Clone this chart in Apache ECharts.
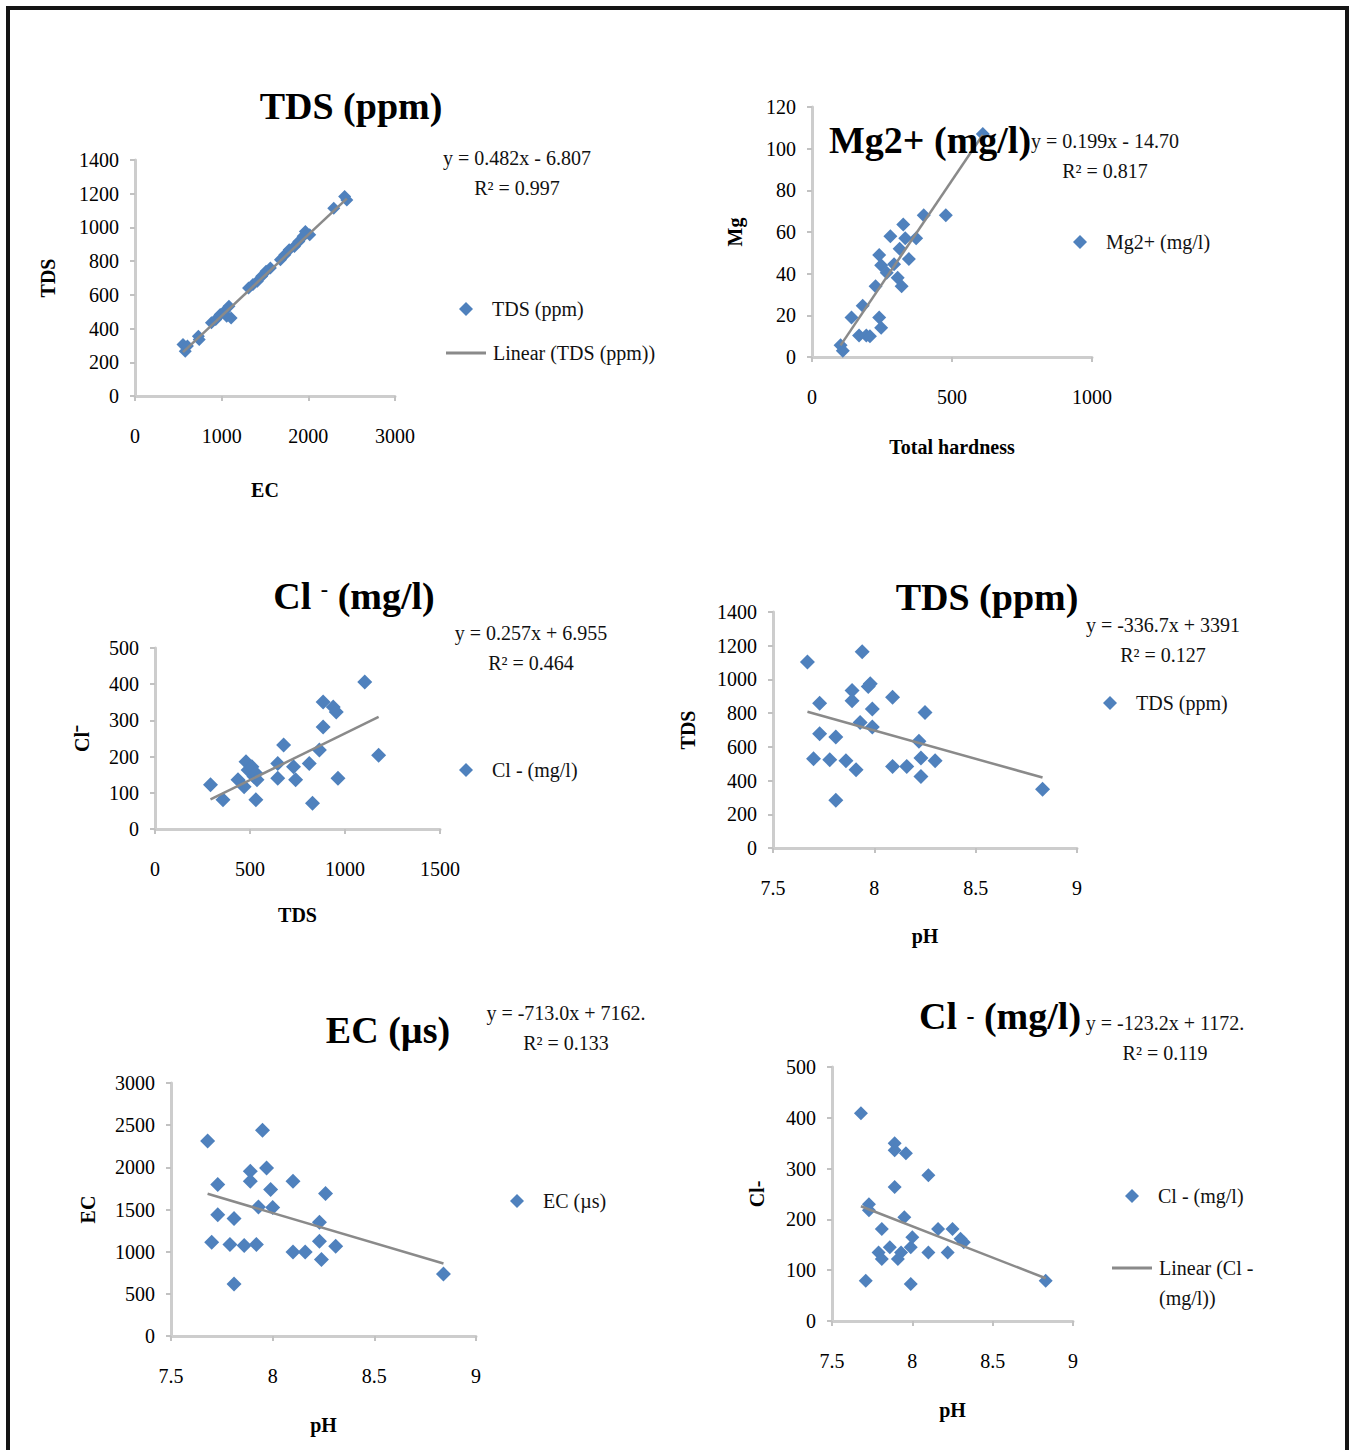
<!DOCTYPE html>
<html><head><meta charset="utf-8">
<script src="https://cdn.jsdelivr.net/npm/echarts@6/dist/echarts.min.js"></script>
<style>html,body{margin:0;padding:0;background:#fff}#c{width:1350px;height:1450px}</style>
</head><body><div id="c"></div>
<script>
// ---------- DATA ----------
// Panel 1: TDS (ppm) vs EC
const p1EC  = [554,580,605,731,741,882,932,983,1033,1084,1058,1109,1310,1361,1411,1462,1512,1562,1678,1729,1779,1840,1890,1940,1966,2016,2293,2444,2419];
const p1TDS = [306,266,296,355,335,434,454,483,503,532,473,463,641,661,680,710,740,759,809,838,868,887,917,947,976,956,1114,1163,1183];
const p1Trend = [0.482, -6.807];
// Panel 2: Mg vs Total hardness
const p2TH = [102,110,141,181,168,194,207,240,247,227,240,247,267,280,293,306,320,313,326,333,346,372,399,478,610];
const p2Mg = [5.6,3,19,24.6,10.3,10.3,10,19,14,34,49,44,40.5,58,44.5,38,34,52,63.6,57,47,57,68,68,107];
const p2Trend = [0.199, -14.70];
// Panel 3: Cl- vs TDS
const p3TDS = [292,358,437,469,479,490,510,521,531,537,531,646,646,677,729,740,812,829,865,885,885,938,954,963,1104,1177];
const p3Cl  = [122,81,136,117,186,163,172,145,154,136,81,181,140,232,172,136,181,71,218,282,351,337,323,140,406,204];
const p3Trend = [0.257, 6.955];
// Panel 4: TDS vs pH
const p4pH  = [7.67,7.70,7.73,7.73,7.78,7.81,7.81,7.86,7.89,7.89,7.91,7.93,7.94,7.97,7.98,7.99,7.99,8.09,8.09,8.16,8.22,8.23,8.23,8.25,8.30,8.83];
const p4TDS = [1104,530,858,678,524,658,284,518,934,874,464,744,1164,958,974,824,718,894,484,484,634,534,424,804,518,348];
const p4Trend = [-336.7, 3391];
// Panel 5: EC vs pH
const p5pH = [7.68,7.70,7.73,7.73,7.79,7.81,7.81,7.86,7.89,7.89,7.92,7.93,7.95,7.97,7.99,8.00,8.10,8.10,8.16,8.23,8.23,8.24,8.26,8.31,8.84];
const p5EC = [2312,1113,1797,1437,1086,1394,617,1074,1953,1836,1086,1531,2441,1992,1738,1523,1836,996,996,1348,1125,906,1691,1063,734];
const p5Trend = [-713.0, 7162];
// Panel 6: Cl- vs pH
const p6pH = [7.68,7.71,7.73,7.73,7.81,7.79,7.81,7.86,7.89,7.89,7.89,7.91,7.93,7.95,7.96,7.99,8.00,7.99,8.10,8.10,8.16,8.22,8.25,8.30,8.32,8.83];
const p6Cl = [409,79,230,218,181,135,122,145,350,336,264,122,135,204,330,145,165,73,287,135,181,135,181,162,155,79];
const p6Trend = [-123.2, 1172];

// Text
const titles = ['TDS (ppm)', 'Mg2+ (mg/l)', '{b|Cl }{s|-}{b| (mg/l)}', 'TDS (ppm)', 'EC (µs)', '{b|Cl }{m|-}{b| (mg/l)}'];
const equations = ['y = 0.482x - 6.807\nR² = 0.997', 'y = 0.199x - 14.70\nR² = 0.817', 'y = 0.257x + 6.955\nR² = 0.464',
                   'y = -336.7x + 3391\nR² = 0.127', 'y = -713.0x + 7162.\nR² = 0.133', 'y = -123.2x + 1172.\nR² = 0.119'];
const seriesNames = ['TDS (ppm)', 'Mg2+ (mg/l)', 'Cl - (mg/l)', 'TDS (ppm)', 'EC (µs)', 'Cl - (mg/l)'];
const trendNames = ['Linear (TDS (ppm))', 'Linear (Mg2+ (mg/l))', 'Linear (Cl - (mg/l) TDS)', 'Linear (TDS (ppm) pH)', 'Linear (EC (µs))', 'Linear (Cl - (mg/l))'];
const xNames = ['EC', 'Total hardness', 'TDS', 'pH', 'pH', 'pH'];
const yNames = ['TDS', 'Mg', 'Cl⁻', 'TDS', 'EC', 'Cl-'];
const xRanges = [[0,3000,1000],[0,1000,500],[0,1500,500],[7.5,9,0.5],[7.5,9,0.5],[7.5,9,0.5]];
const yRanges = [[0,1400,200],[0,120,20],[0,500,100],[0,1400,200],[0,3000,500],[0,500,100]];

// ---------- LAYOUT ----------
const F = 'Liberation Serif';
const grids = [
  {left:135, top:160, width:260, height:236},
  {left:812, top:107, width:280, height:250},
  {left:155, top:648, width:285, height:181},
  {left:773, top:612, width:304, height:236},
  {left:171, top:1083, width:305, height:253},
  {left:832, top:1067, width:241, height:254}
];
const xNameGap = [84, 80, 76, 78, 79, 79];
const yNameGap = [77, 67, 63, 75, 73, 65];
const titlePos = [[346,82],[925,116],[349,572],[982,573],[383,1006],[995,992]];
const eqPos = [[512,138],[1100,121],[526,613],[1158,605],[561,993],[1160,1003]];
const symSize = [13,14,15,15,15,14];

const xs = [p1EC, p2TH, p3TDS, p4pH, p5pH, p6pH];
const ys = [p1TDS, p2Mg, p3Cl, p4TDS, p5EC, p6Cl];
const trends = [p1Trend, p2Trend, p3Trend, p4Trend, p5Trend, p6Trend];

const axisLine = {show:true, onZero:false, lineStyle:{color:'#cdcdcd', width:3}};
const axisTick = {show:true, length:5, lineStyle:{color:'#c2c2c2', width:2}};
const labelStyle = {fontFamily:F, fontSize:20, color:'#000', formatter: v => String(v)};
const nameStyle = {fontFamily:F, fontSize:20, fontWeight:'bold', color:'#000'};

const xAxis = [], yAxis = [], series = [], title = [];
for (let i = 0; i < 6; i++) {
  xAxis.push({type:'value', gridIndex:i, min:xRanges[i][0], max:xRanges[i][1], interval:xRanges[i][2],
    name:xNames[i], nameLocation:'middle', nameGap:xNameGap[i], nameTextStyle:nameStyle,
    axisLine, axisTick, axisLabel:Object.assign({margin:30}, labelStyle), splitLine:{show:false}});
  yAxis.push({type:'value', gridIndex:i, min:yRanges[i][0], max:yRanges[i][1], interval:yRanges[i][2],
    name:yNames[i], nameLocation:'middle', nameGap:yNameGap[i], nameRotate:90, nameTextStyle:nameStyle,
    axisLine, axisTick, axisLabel:Object.assign({margin:16}, labelStyle), splitLine:{show:false}});
  const pts = xs[i].map((x, k) => [x, ys[i][k]]);
  series.push({type:'scatter', name:seriesNames[i], xAxisIndex:i, yAxisIndex:i, data:pts,
    symbol:'diamond', symbolSize:symSize[i], itemStyle:{color:'#4f81bd', opacity:1}, z:2});
  const xmin = Math.min(...xs[i]), xmax = Math.max(...xs[i]);
  const [a, b] = trends[i];
  series.push({type:'line', name:trendNames[i], xAxisIndex:i, yAxisIndex:i,
    data:[[xmin, a*xmin + b], [xmax, a*xmax + b]], symbol:'none',
    lineStyle:{color:'#8a8a8a', width:2.5}, itemStyle:{color:'#8a8a8a'}, z:3});
  title.push({text:titles[i], left:titlePos[i][0], top:titlePos[i][1], textAlign:'center',
    textStyle:{fontFamily:F, fontSize:38, fontWeight:'bold', color:'#000',
      rich:{b:{fontFamily:F, fontSize:38, fontWeight:'bold', color:'#000'},
            s:{fontFamily:F, fontSize:22, fontWeight:'bold', color:'#000', verticalAlign:'top'},
            m:{fontFamily:F, fontSize:24, fontWeight:'bold', color:'#000'}}}});
  title.push({text:equations[i], left:eqPos[i][0], top:eqPos[i][1], textAlign:'center',
    textStyle:{fontFamily:F, fontSize:20, fontWeight:'normal', color:'#111', lineHeight:30}});
}

const legText = {fontFamily:F, fontSize:20, color:'#111'};
function diamondLegend(name, cx, cy) {
  return {data:[{name:name, icon:'diamond'}], orient:'vertical', left:cx - 7, top:cy - 11,
    itemWidth:14, itemHeight:14, selectedMode:false, padding:0,
    textStyle:Object.assign({}, legText, {padding:[0,0,0,14]})};
}
function lineLegend(name, x0, cy, fmt, twoLine) {
  const ts = twoLine ? Object.assign({}, legText, {lineHeight:30, padding:[0,0,0,2]})
                     : Object.assign({}, legText, {padding:[0,0,0,2]});
  return {data:[{name:name, icon:'rect'}], orient:'vertical', left:x0,
    top: twoLine ? cy - 45 : cy - 11, itemWidth:40, itemHeight:3, selectedMode:false, padding:0,
    formatter: fmt, textStyle:ts};
}
const legend = [
  diamondLegend('TDS (ppm)', 466, 310),
  lineLegend('Linear (TDS (ppm))', 446, 354, n => n, false),
  diamondLegend('Mg2+ (mg/l)', 1080, 243),
  diamondLegend('Cl - (mg/l)', 466, 771),
  diamondLegend('TDS (ppm)', 1110, 704),
  diamondLegend('EC (µs)', 517, 1202),
  diamondLegend('Cl - (mg/l)', 1132, 1197),
  lineLegend('Linear (Cl - (mg/l))', 1112, 1268, n => '\nLinear (Cl -\n(mg/l))', true)
];

const chart = echarts.init(document.getElementById('c'), null, {renderer:'svg'});
chart.setOption({
  backgroundColor:'#fff',
  animation:false,
  grid:grids,
  xAxis, yAxis, series, title, legend,
  graphic:[{type:'rect', silent:true, shape:{x:8, y:8, width:1339, height:1470},
    style:{fill:'none', stroke:'#151515', lineWidth:4}, z:100}]
});
</script></body></html>
